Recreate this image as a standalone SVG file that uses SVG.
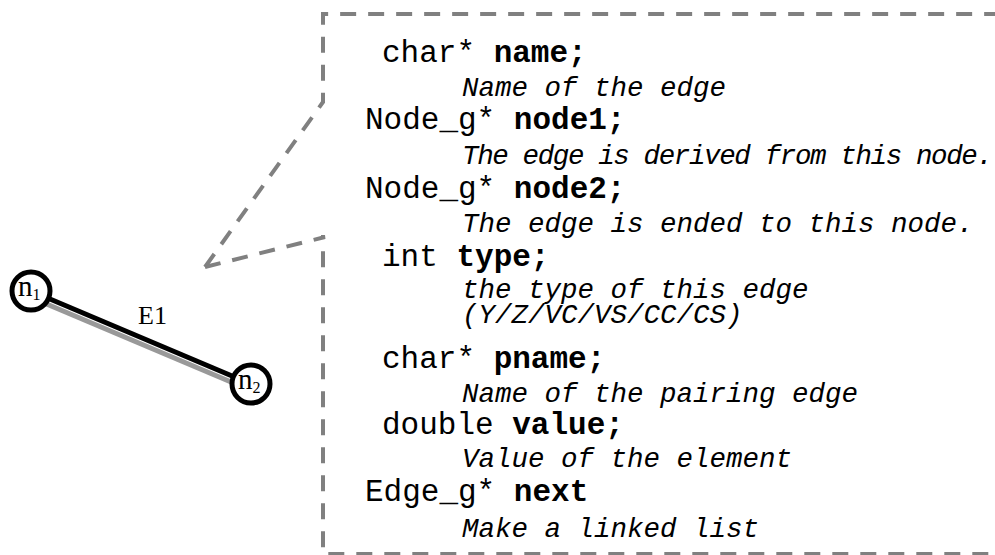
<svg xmlns="http://www.w3.org/2000/svg" width="995" height="555" viewBox="0 0 995 555">
  <style>
    .callout { fill: none; stroke: #808080; stroke-width: 4; stroke-dasharray: 16 12; stroke-linejoin: miter; }
    .node circle { fill: #ffffff; stroke: #000000; stroke-width: 5; }
    .node text { font-family: "Liberation Serif", "Times New Roman", serif; font-size: 29px; fill: #000; }
    .sub { font-size: 16px; }
    .label { font-family: "Liberation Serif", "Times New Roman", serif; font-size: 26px; fill: #000; }
    .decl { font-family: "Liberation Mono", "Courier New", monospace; font-size: 31px; fill: #000; }
    .decl .field { font-weight: bold; }
    .note { font-family: "Liberation Mono", "Courier New", monospace; font-size: 27.5px; font-style: italic; fill: #000; }
  </style>
  <rect width="995" height="555" fill="#ffffff"/>

  <!-- edge E1 between n1 and n2, with a grey shadow underneath -->
  <g id="connectors">
    <line x1="30" y1="297" x2="250" y2="390" stroke="#999999" stroke-width="5"/>
    <line x1="31" y1="291" x2="251" y2="384" stroke="#000000" stroke-width="5"/>
    <text class="label" x="138" y="324">E1</text>
  </g>

  <g id="n1" class="node">
    <circle cx="31" cy="291" r="19"/>
    <text x="18" y="296">n<tspan class="sub" dy="4">1</tspan></text>
  </g>

  <g id="n2" class="node">
    <circle cx="251" cy="384" r="19"/>
    <text x="238" y="389">n<tspan class="sub" dy="4">2</tspan></text>
  </g>

  <!-- dashed callout box pointing at the edge -->
  <g id="callout">
    <path class="callout" d="M205 267 L323 102 L323 14 L1000 14"/>
    <path class="callout" d="M205 267 L325 237 L323 237 L323 554 L1000 554"/>
  </g>

  <!-- Edge_g structure fields -->
  <g id="fields">
    <text class="decl" x="382" y="62">char* <tspan class="field">name;</tspan></text>
    <text class="note" x="462" y="96">Name of the edge</text>
    <text class="decl" x="365" y="129">Node_g* <tspan class="field">node1;</tspan></text>
    <text class="note" x="462" y="164" textLength="531" lengthAdjust="spacing">The edge is derived from this node.</text>
    <text class="decl" x="365" y="198">Node_g* <tspan class="field">node2;</tspan></text>
    <text class="note" x="462" y="232">The edge is ended to this node.</text>
    <text class="decl" x="382" y="266">int <tspan class="field">type;</tspan></text>
    <text class="note" x="462" y="298">the type of this edge</text>
    <text class="note" x="462" y="323">(Y/Z/VC/VS/CC/CS)</text>
    <text class="decl" x="382" y="368">char* <tspan class="field">pname;</tspan></text>
    <text class="note" x="462" y="402">Name of the pairing edge</text>
    <text class="decl" x="382" y="434">double <tspan class="field">value;</tspan></text>
    <text class="note" x="462" y="467">Value of the element</text>
    <text class="decl" x="365" y="501">Edge_g* <tspan class="field">next</tspan></text>
    <text class="note" x="462" y="537">Make a linked list</text>
  </g>
</svg>
